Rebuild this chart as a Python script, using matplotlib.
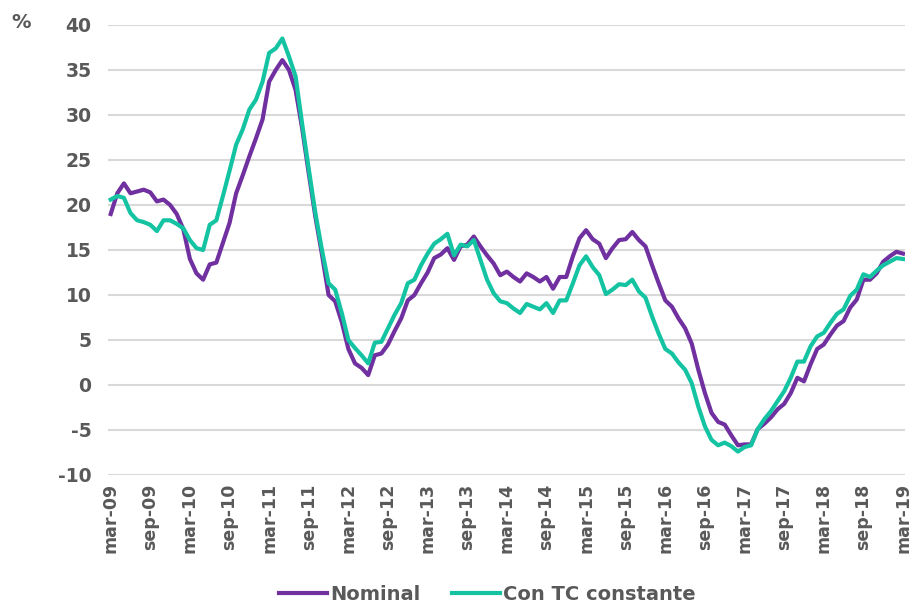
import matplotlib
matplotlib.use('Agg')
import matplotlib.pyplot as plt

# monthly series, mar-09 .. mar-19 (121 months)
nominal = [19.0, 21.3, 22.4, 21.3, 21.5, 21.7, 21.4, 20.4, 20.6, 20.0,
           19.0, 17.3, 14.0, 12.4, 11.7, 13.4, 13.6, 15.8, 18.0, 21.3,
           23.3, 25.4, 27.4, 29.5, 33.7, 35.0, 36.1, 35.0, 32.8, 28.5,
           23.5, 18.7, 14.5, 10.0, 9.3, 7.0, 4.0, 2.4, 1.9, 1.1,
           3.3, 3.5, 4.5, 6.0, 7.4, 9.4, 10.0, 11.3, 12.5, 14.1,
           14.5, 15.2, 13.9, 15.4, 15.6, 16.5, 15.4, 14.4, 13.5, 12.2,
           12.6, 12.0, 11.5, 12.4, 12.0, 11.5, 12.0, 10.7, 12.0, 12.0,
           14.3, 16.3, 17.2, 16.2, 15.7, 14.1, 15.2, 16.1, 16.2, 17.0,
           16.1, 15.4, 13.3, 11.3, 9.4, 8.7, 7.4, 6.3, 4.6, 1.7,
           -0.9, -3.1, -4.1, -4.4, -5.6, -6.7, -6.6, -6.6, -4.9, -4.3,
           -3.6, -2.7, -2.1, -0.9, 0.8, 0.4, 2.3, 4.0, 4.5, 5.6,
           6.6, 7.1, 8.6, 9.5, 11.7, 11.7, 12.4, 13.7, 14.3, 14.8,
           14.6]
tc_constante = [20.6, 21.0, 20.8, 19.1, 18.3, 18.1, 17.8, 17.1, 18.3, 18.3,
                17.9, 17.4, 16.1, 15.2, 15.0, 17.8, 18.3, 21.0, 23.8, 26.7,
                28.4, 30.6, 31.7, 33.7, 36.9, 37.4, 38.5, 36.5, 34.3, 29.0,
                24.0, 19.1, 15.0, 11.3, 10.6, 8.0, 5.0, 4.1, 3.3, 2.4,
                4.7, 4.8, 6.3, 7.8, 9.1, 11.3, 11.7, 13.3, 14.6, 15.7,
                16.2, 16.8, 14.4, 15.6, 15.4, 16.1, 13.9, 11.7, 10.2, 9.3,
                9.1, 8.5, 8.0, 9.0, 8.7, 8.4, 9.1, 8.0, 9.4, 9.4,
                11.3, 13.3, 14.3, 13.1, 12.2, 10.1, 10.6, 11.2, 11.1, 11.7,
                10.4, 9.7, 7.6, 5.7, 4.0, 3.5, 2.5, 1.7, 0.2, -2.4,
                -4.6, -6.1, -6.7, -6.4, -6.8, -7.4, -6.9, -6.7, -4.9, -3.8,
                -2.9, -1.8, -0.7, 0.8, 2.6, 2.6, 4.3, 5.4, 5.8, 6.9,
                7.9, 8.4, 9.9, 10.6, 12.3, 12.0, 12.7, 13.3, 13.7, 14.1,
                14.0]
tick_labels = ['mar-09', 'sep-09', 'mar-10', 'sep-10', 'mar-11', 'sep-11',
               'mar-12', 'sep-12', 'mar-13', 'sep-13', 'mar-14', 'sep-14',
               'mar-15', 'sep-15', 'mar-16', 'sep-16', 'mar-17', 'sep-17',
               'mar-18', 'sep-18', 'mar-19']
y_ticks = [40, 35, 30, 25, 20, 15, 10, 5, 0, -5, -10]

purple = '#7030A0'
teal = '#14C3A2'
grey = '#595959'

fig = plt.figure(figsize=(9.11, 6.14), dpi=100)
ax = fig.add_axes([0.1186, 0.2264, 0.8748, 0.7329])

x = list(range(len(nominal)))
ax.plot(x, nominal, color=purple, lw=3.0, label='Nominal', zorder=3,
        solid_joinstyle='round')
ax.plot(x, tc_constante, color=teal, lw=3.0, label='Con TC constante', zorder=4,
        solid_joinstyle='round')

ax.set_xlim(-0.4, 120.3)
ax.set_ylim(-10, 40)
ax.set_yticks(y_ticks)
ax.set_yticklabels([str(v) for v in y_ticks], fontsize=13.5, fontweight='bold', color=grey)
ax.set_xticks(range(0, 121, 6))
ax.set_xticklabels(tick_labels, rotation=90, fontsize=12.5, fontweight='bold', color=grey)
ax.tick_params(axis='both', length=0)
ax.tick_params(axis='y', pad=12)
ax.tick_params(axis='x', pad=6)
ax.grid(axis='y', color='#d9d9d9', lw=1.5)
ax.set_axisbelow(True)
for s in ax.spines.values():
    s.set_visible(False)

fig.text(0.012, 0.963, '%', fontsize=14, fontweight='bold', color=grey, va='center')

handles, labels = ax.get_legend_handles_labels()
leg = fig.legend(handles, labels, loc='lower center', bbox_to_anchor=(0.535, -0.012),
                 ncol=2, frameon=False, handlelength=2.5, handletextpad=0.15,
                 columnspacing=1.6,
                 prop={'family': ['Liberation Sans Narrow', 'DejaVu Sans'],
                       'weight': 'bold', 'size': 14})
for t in leg.get_texts():
    t.set_color(grey)

fig.savefig('out.png', dpi=100)
